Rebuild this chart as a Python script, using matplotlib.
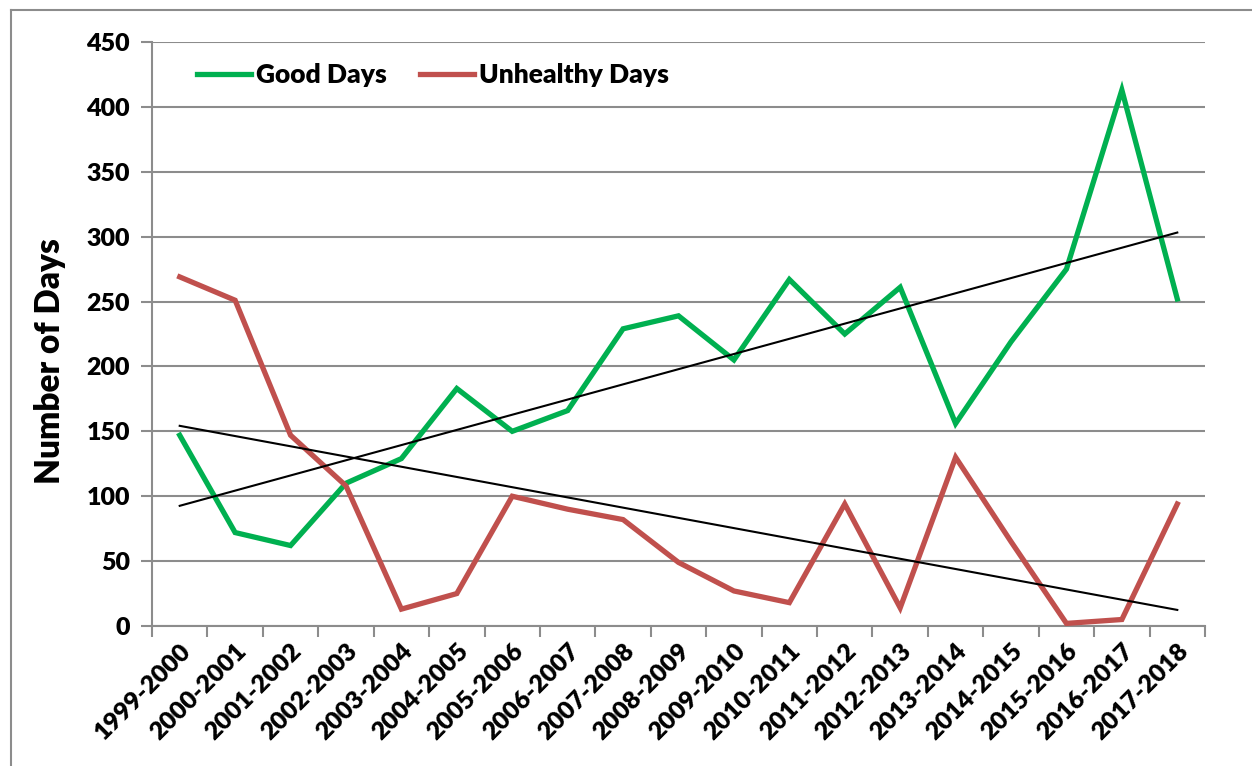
import matplotlib
matplotlib.use("Agg")
import matplotlib.pyplot as plt
import numpy as np
from matplotlib.lines import Line2D

seasons = ["1999-2000", "2000-2001", "2001-2002", "2002-2003", "2003-2004",
           "2004-2005", "2005-2006", "2006-2007", "2007-2008", "2008-2009",
           "2009-2010", "2010-2011", "2011-2012", "2012-2013", "2013-2014",
           "2014-2015", "2015-2016", "2016-2017", "2017-2018"]
good_days = [147, 72, 62, 110, 129, 183, 150, 166, 229, 239, 205, 267, 225,
             261, 156, 219, 275, 413, 252]
unhealthy_days = [269, 251, 147, 108, 13, 25, 100, 90, 82, 49, 27, 18, 94,
                  14, 130, 65, 2, 5, 94]
y_ticks = [0, 50, 100, 150, 200, 250, 300, 350, 400, 450]

FONT = ["Lato", "DejaVu Sans"]
plt.rcParams["font.family"] = FONT

W, H = 1252, 766
fig = plt.figure(figsize=(W / 100, H / 100), dpi=100)
ax = fig.add_axes([152 / W, 1 - 626 / H, (1205 - 152) / W, (626 - 42) / H])

# figure border (top and left visible)
fig.add_artist(Line2D([11 / W, 11 / W], [0, 1 - 10 / H], transform=fig.transFigure,
                      color="#8c8c8c", lw=1.5))
fig.add_artist(Line2D([11 / W, 1], [1 - 10 / H, 1 - 10 / H], transform=fig.transFigure,
                      color="#8c8c8c", lw=1.5))

x = np.arange(len(seasons))
green = "#00B050"
red = "#C0504D"
ax.plot(x, good_days, color=green, lw=3.8, solid_joinstyle="miter", label="Good Days", zorder=3)
ax.plot(x, unhealthy_days, color=red, lw=3.8, solid_joinstyle="miter", label="Unhealthy Days", zorder=3)

# linear trend lines
for series in (good_days, unhealthy_days):
    k, b = np.polyfit(x, series, 1)
    ax.plot([x[0], x[-1]], [k * x[0] + b, k * x[-1] + b], color="black", lw=1.5, zorder=4)

ax.set_xlim(-0.5, len(seasons) - 0.5)
ax.set_ylim(0, 450)
ax.set_yticks(y_ticks)
ax.set_yticklabels([str(v) for v in y_ticks], fontsize=18, fontweight="heavy")
ax.yaxis.grid(True, color="#8c8c8c", lw=1.5)
ax.set_axisbelow(True)

ax.set_xticks(x)
ax.set_xticklabels(seasons, rotation=45, ha="right", rotation_mode="anchor",
                   fontsize=18, fontweight="heavy")
ax.set_xticks(np.arange(len(seasons) + 1) - 0.5, minor=True)
ax.tick_params(axis="x", which="major", length=0, pad=10)
ax.tick_params(axis="x", which="minor", length=8, width=1.5, color="#8c8c8c")
ax.tick_params(axis="y", length=8, width=1.5, color="#8c8c8c", pad=8)

for s in ("top", "right"):
    ax.spines[s].set_visible(False)
for s in ("left", "bottom"):
    ax.spines[s].set_color("#8c8c8c")
    ax.spines[s].set_linewidth(1.5)

ax.set_ylabel("Number of Days", fontsize=24, fontweight="heavy", va="center")
ax.yaxis.set_label_coords(-0.0965, 0.454)

leg = ax.legend(loc="upper left", bbox_to_anchor=(0.02, 1.005), ncol=2, frameon=False,
                handlelength=2.05, handletextpad=0.2, columnspacing=1.25,
                prop={"family": FONT, "weight": "heavy", "size": 19})

fig.savefig("out.png", dpi=100)
